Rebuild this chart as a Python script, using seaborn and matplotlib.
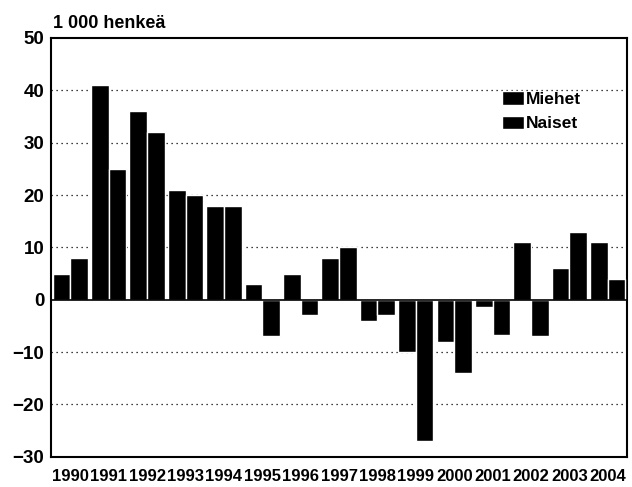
import pandas as pd
import seaborn as sns
import matplotlib.pyplot as plt

# Values (1 000 persons)
years = [str(y) for y in range(1990, 2005)]
miehet = [5, 41, 36, 21, 18, 3, 5, 8, -4, -10, -8, -1.4, 11, 6, 11]
naiset = [8, 25, 32, 20, 18, -7, -3, 10, -3, -27, -14, -6.8, -7, 13, 4]

df = pd.DataFrame({
    'vuosi': years * 2,
    'arvo': miehet + naiset,
    'sukupuoli': ['Miehet'] * len(years) + ['Naiset'] * len(years),
})

sns.set_style('white')
plt.rcParams['font.family'] = ['Liberation Sans', 'DejaVu Sans']
plt.rcParams['text.color'] = 'black'
plt.rcParams['xtick.color'] = 'black'
plt.rcParams['ytick.color'] = 'black'

fig = plt.figure(figsize=(6.32, 4.87), dpi=100)
ax = fig.add_axes([0.081, 0.062, 0.911, 0.86])

sns.barplot(data=df, x='vuosi', y='arvo', hue='sukupuoli',
            palette=['black', 'black'], width=0.92, gap=0,
            edgecolor='white', linewidth=1.0, ax=ax, zorder=3)

ax.set_ylim(-30, 50)
ax.set_xlim(-0.5, len(years) - 0.5)
ax.set_yticks(range(-30, 51, 10))
ax.set_yticklabels([str(v).replace('-', '\u2212') for v in range(-30, 51, 10)],
                   fontsize=13.5, fontweight='bold')
ax.set_xticks(range(len(years)))
ax.set_xticklabels(years, fontsize=12, fontweight='bold')
ax.tick_params(axis='x', direction='in', length=4, width=1, pad=9)
ax.tick_params(axis='y', length=0, pad=5)
ax.set_xlabel('')
ax.set_ylabel('')

# dotted grid, solid zero line
for v in [-20, -10, 10, 20, 30, 40]:
    ax.axhline(v, color='black', linestyle=(0, (1, 3)), linewidth=0.9, zorder=1)
ax.axhline(0, color='black', linewidth=1.2, zorder=4)

for s in ax.spines.values():
    s.set_visible(True)
    s.set_color('black')
    s.set_linewidth(1.5)

ax.text(0.003, 1.015, '1 000 henkeä', transform=ax.transAxes,
        fontsize=13, fontweight='bold', ha='left', va='bottom')

leg = ax.legend(loc='center left', bbox_to_anchor=(0.755, 0.825), frameon=False,
                fontsize=12.5, handlelength=1.3, handleheight=0.8,
                handletextpad=0.1, labelspacing=0.5)
for t in leg.get_texts():
    t.set_fontweight('bold')

fig.savefig('out.png', dpi=100)
